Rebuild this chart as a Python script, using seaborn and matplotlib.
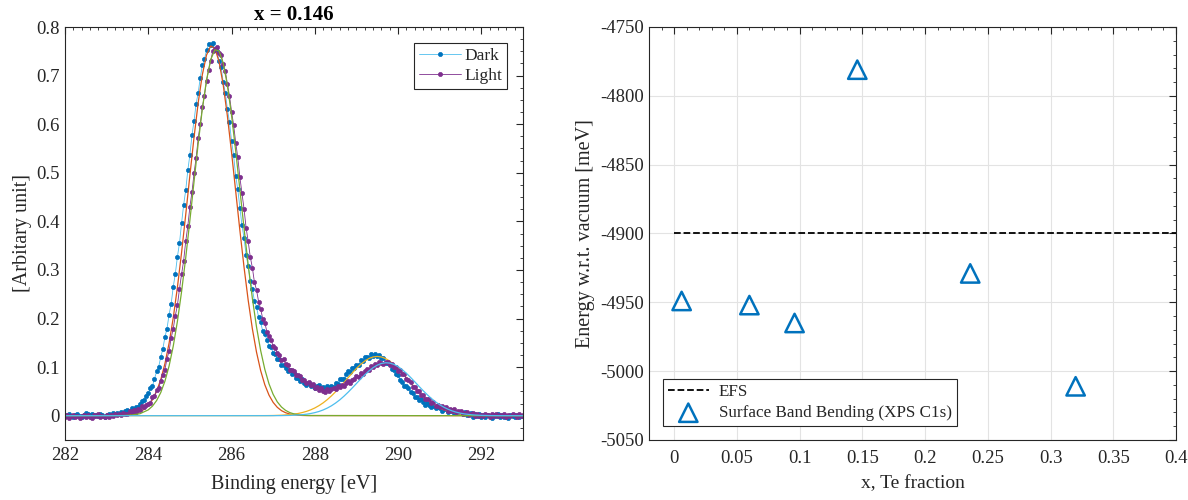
import numpy as np
import matplotlib
matplotlib.use("Agg")
import matplotlib.pyplot as plt
import seaborn as sns
from matplotlib.ticker import MultipleLocator, FuncFormatter

# ---------------- data: left panel (XPS C1s, x = 0.146) ----------------
energy_start, energy_stop, energy_step = 282.0, 293.0, 0.05

dark = [
    0.002, -0.001, 0.003, 0.000, -0.002, 0.001, 0.004, 0.000, -0.003, 0.002,
    0.006, 0.003, 0.001, 0.004, -0.001, 0.002, 0.000, 0.003, 0.001, -0.002,
    0.002, 0.004, 0.001, 0.005, 0.003, 0.006, 0.004, 0.008, 0.006, 0.009,
    0.011, 0.010, 0.015, 0.014, 0.018, 0.018, 0.025, 0.030, 0.032, 0.041,
    0.046, 0.057, 0.061, 0.076, 0.091, 0.100, 0.121, 0.137, 0.162, 0.179,
    0.208, 0.230, 0.265, 0.292, 0.327, 0.355, 0.396, 0.434, 0.464, 0.505,
    0.537, 0.577, 0.607, 0.642, 0.665, 0.696, 0.721, 0.734, 0.752, 0.766,
    0.763, 0.768, 0.753, 0.750, 0.731, 0.717, 0.687, 0.665, 0.632, 0.605,
    0.566, 0.536, 0.494, 0.466, 0.428, 0.392, 0.366, 0.331, 0.308, 0.278,
    0.261, 0.236, 0.224, 0.203, 0.192, 0.174, 0.169, 0.155, 0.144, 0.141,
    0.129, 0.127, 0.117, 0.117, 0.105, 0.105, 0.099, 0.091, 0.094, 0.086,
    0.087, 0.078, 0.078, 0.071, 0.075, 0.068, 0.064, 0.067, 0.061, 0.063,
    0.057, 0.062, 0.063, 0.057, 0.059, 0.055, 0.061, 0.058, 0.062, 0.060,
    0.068, 0.066, 0.075, 0.075, 0.076, 0.085, 0.091, 0.089, 0.098, 0.098,
    0.105, 0.104, 0.114, 0.113, 0.120, 0.120, 0.119, 0.127, 0.123, 0.127,
    0.122, 0.125, 0.119, 0.118, 0.109, 0.109, 0.106, 0.096, 0.094, 0.085,
    0.083, 0.073, 0.070, 0.061, 0.061, 0.058, 0.048, 0.047, 0.038, 0.038,
    0.032, 0.034, 0.028, 0.023, 0.026, 0.023, 0.018, 0.021, 0.016, 0.017,
    0.016, 0.010, 0.013, 0.014, 0.008, 0.009, 0.011, 0.005, 0.008, 0.005,
    0.007, 0.003, 0.007, 0.001, 0.003, 0.005, -0.002, 0.003, -0.001, 0.004,
    -0.002, 0.001, -0.003, 0.002, 0.000, -0.004, 0.001, -0.001, 0.003, -0.002,
    0.001, -0.003, 0.000, -0.005, 0.002, -0.001, -0.003, 0.001, -0.002, 0.000,
    -0.001,
]

light = [
    -0.002, 0.001, -0.004, -0.001, 0.002, -0.003, 0.000, -0.005, -0.001, 0.001,
    -0.003, 0.002, -0.002, -0.004, 0.001, -0.001, 0.003, -0.002, 0.000, -0.003,
    0.001, -0.002, 0.002, 0.000, 0.003, 0.001, 0.004, 0.002, 0.005, 0.003,
    0.004, 0.010, 0.007, 0.011, 0.008, 0.013, 0.012, 0.019, 0.017, 0.023,
    0.025, 0.027, 0.038, 0.041, 0.052, 0.056, 0.072, 0.083, 0.095, 0.117,
    0.133, 0.160, 0.179, 0.206, 0.227, 0.261, 0.291, 0.319, 0.359, 0.390,
    0.430, 0.460, 0.499, 0.531, 0.571, 0.601, 0.635, 0.659, 0.689, 0.712,
    0.731, 0.750, 0.754, 0.759, 0.747, 0.742, 0.724, 0.710, 0.683, 0.659,
    0.626, 0.599, 0.562, 0.532, 0.491, 0.459, 0.426, 0.387, 0.359, 0.327,
    0.305, 0.275, 0.259, 0.235, 0.220, 0.199, 0.191, 0.173, 0.164, 0.156,
    0.143, 0.140, 0.129, 0.125, 0.114, 0.116, 0.106, 0.104, 0.095, 0.095,
    0.092, 0.083, 0.084, 0.082, 0.074, 0.073, 0.068, 0.070, 0.064, 0.065,
    0.056, 0.059, 0.053, 0.056, 0.051, 0.049, 0.054, 0.051, 0.055, 0.058,
    0.054, 0.061, 0.059, 0.064, 0.061, 0.067, 0.071, 0.068, 0.074, 0.075,
    0.082, 0.080, 0.087, 0.085, 0.092, 0.097, 0.095, 0.102, 0.101, 0.107,
    0.104, 0.110, 0.109, 0.106, 0.111, 0.111, 0.105, 0.107, 0.101, 0.101,
    0.093, 0.094, 0.086, 0.085, 0.075, 0.073, 0.070, 0.060, 0.059, 0.051,
    0.051, 0.042, 0.042, 0.034, 0.035, 0.034, 0.027, 0.028, 0.021, 0.023,
    0.018, 0.021, 0.015, 0.017, 0.010, 0.013, 0.009, 0.013, 0.008, 0.010,
    0.009, 0.003, 0.006, 0.007, 0.002, 0.003, 0.005, -0.001, 0.003, 0.000,
    0.002, -0.001, 0.004, 0.001, -0.002, 0.003, 0.000, 0.004, -0.001, 0.002,
    0.000, 0.003, -0.002, 0.002, -0.001, 0.004, 0.001, -0.002, 0.003, 0.000,
    0.002,
]

# fitted components (energy, intensity)
fit_dark_main_e = [282.0, 283.3, 283.5, 283.7] + list(np.round(np.arange(283.9, 287.85, 0.1), 1)) + [293.0]
fit_dark_main_y = [0, 0.0004, 0.0013, 0.0044, 0.0128, 0.0208, 0.0328, 0.0501, 0.0743, 0.1069,
                   0.1490, 0.2014, 0.2640, 0.3356, 0.4138, 0.4947, 0.5733, 0.6444, 0.7024, 0.7424,
                   0.7609, 0.7563, 0.7289, 0.6812, 0.6173, 0.5425, 0.4622, 0.3820, 0.3061, 0.2378,
                   0.1792, 0.1309, 0.0927, 0.0637, 0.0424, 0.0274, 0.0172, 0.0104, 0.0061, 0.0035,
                   0.0019, 0.0010, 0.0005, 0.0003, 0]

fit_dark_sec_e = [282.0, 286.8, 287.0, 287.2] + list(np.round(np.arange(287.4, 291.65, 0.1), 1)) + [291.8, 292.0, 292.2, 293.0]
fit_dark_sec_y = [0, 0.0002, 0.0004, 0.0010,
                  0.0022, 0.0033, 0.0046, 0.0065, 0.0089, 0.0120,
                  0.0159, 0.0207, 0.0264, 0.0331, 0.0408, 0.0493, 0.0586, 0.0683, 0.0783, 0.0880,
                  0.0973, 0.1055, 0.1124, 0.1177, 0.1209, 0.1220, 0.1209, 0.1177, 0.1124, 0.1055,
                  0.0973, 0.0880, 0.0783, 0.0683, 0.0586, 0.0493, 0.0408, 0.0331, 0.0264, 0.0207,
                  0.0159, 0.0120, 0.0089, 0.0065, 0.0046, 0.0033, 0.0022,
                  0.0010, 0.0004, 0.0002, 0]

fit_light_main_e = [282.0, 283.4, 283.6, 283.8] + list(np.round(np.arange(284.0, 287.95, 0.1), 1)) + [293.0]
fit_light_main_y = [0, 0.0003, 0.0013, 0.0041,
                    0.0120, 0.0196, 0.0311, 0.0476, 0.0709, 0.1022, 0.1430, 0.1940, 0.2550, 0.3251,
                    0.4021, 0.4821, 0.5605, 0.6320, 0.6910, 0.7326, 0.7531, 0.7508, 0.7259, 0.6804,
                    0.6185, 0.5452, 0.4660, 0.3863, 0.3105, 0.2420, 0.1829, 0.1340, 0.0953, 0.0656,
                    0.0439, 0.0284, 0.0179, 0.0109, 0.0064, 0.0037, 0.0020, 0.0011, 0.0006, 0.0003,
                    0]

fit_light_sec_e = [282.0, 287.0, 287.2, 287.4] + list(np.round(np.arange(287.6, 291.65, 0.1), 1)) + [291.8, 292.0, 292.2, 292.4, 293.0]
fit_light_sec_y = [0, 0.0001, 0.0002, 0.0006,
                   0.0015, 0.0022, 0.0031, 0.0045,
                   0.0063, 0.0087, 0.0118, 0.0157, 0.0204, 0.0261, 0.0326, 0.0401, 0.0483, 0.0571,
                   0.0662, 0.0753, 0.0841, 0.0920, 0.0988, 0.1040, 0.1075, 0.1090, 0.1083, 0.1057,
                   0.1011, 0.0949, 0.0873, 0.0789, 0.0699, 0.0607, 0.0518, 0.0433, 0.0355, 0.0286,
                   0.0226, 0.0175, 0.0133, 0.0099, 0.0072, 0.0052, 0.0036,
                   0.0017, 0.0007, 0.0003, 0.0001, 0]

# ---------------- data: right panel ----------------
te_fraction = [0.006, 0.060, 0.096, 0.146, 0.236, 0.320]
band_bending = [-4949, -4952, -4965, -4781, -4929, -5011]
efs_x = [0.0, 0.4]
efs_y = [-4900, -4900]

# ---------------- styling ----------------
BLUE, ORANGE, YELLOW = "#0072BD", "#D95319", "#EDB120"
PURPLE, GREEN, LBLUE = "#7E2F8E", "#77AC30", "#4DBEEE"
AXC = "#262626"

sns.set_theme(style="white")
plt.rcParams["font.family"] = ["Liberation Serif", "DejaVu Serif"]
plt.rcParams["legend.numpoints"] = 1

energy = np.round(np.arange(energy_start, energy_stop + 1e-9, energy_step), 2)

fig = plt.figure(figsize=(11.88, 5.0), dpi=100)
ax1 = fig.add_axes([0.0547, 0.12, 0.3855, 0.826])
ax2 = fig.add_axes([0.5463, 0.12, 0.4436, 0.826])

fmt = FuncFormatter(lambda v, p: f"{v:g}")
TICK_FS = 13.5
LABEL_FS = 14.5

def style_axes(ax):
    for s in ax.spines.values():
        s.set_color(AXC)
        s.set_linewidth(0.8)
    ax.tick_params(which="both", direction="in", top=True, right=True,
                   color=AXC, labelcolor=AXC, labelsize=TICK_FS)
    ax.tick_params(which="major", length=5, width=0.8)
    ax.tick_params(which="minor", length=2.5, width=0.6)

# left panel
sns.lineplot(x=energy, y=dark, ax=ax1, color=LBLUE, lw=0.6, marker="o", markersize=3.0,
             markerfacecolor=BLUE, markeredgecolor=BLUE, markeredgewidth=0.5, label="Dark")
sns.lineplot(x=fit_dark_main_e, y=fit_dark_main_y, ax=ax1, color=ORANGE, lw=0.9)
sns.lineplot(x=fit_dark_sec_e, y=fit_dark_sec_y, ax=ax1, color=YELLOW, lw=0.9)
sns.lineplot(x=energy, y=light, ax=ax1, color=PURPLE, lw=0.6, marker="o", markersize=3.0,
             markerfacecolor=PURPLE, markeredgecolor=PURPLE, markeredgewidth=0.5, label="Light")
sns.lineplot(x=fit_light_main_e, y=fit_light_main_y, ax=ax1, color=GREEN, lw=0.9)
sns.lineplot(x=fit_light_sec_e, y=fit_light_sec_y, ax=ax1, color=LBLUE, lw=0.9)

ax1.set_xlim(282, 293)
ax1.set_ylim(-0.05, 0.8)
ax1.xaxis.set_major_locator(MultipleLocator(2))
ax1.xaxis.set_minor_locator(MultipleLocator(0.2))
ax1.yaxis.set_major_locator(MultipleLocator(0.1))
ax1.yaxis.set_minor_locator(MultipleLocator(0.025))
ax1.xaxis.set_major_formatter(fmt)
ax1.yaxis.set_major_formatter(fmt)
style_axes(ax1)
ax1.tick_params(axis="x", pad=5)
ax1.set_xlabel("Binding energy [eV]", fontsize=LABEL_FS, color=AXC, labelpad=8)
ax1.set_ylabel("[Arbitary unit]", fontsize=LABEL_FS, color=AXC, labelpad=3)
ax1.set_title("x = 0.146", fontsize=15, fontweight="bold", color="black", pad=5)
leg1 = ax1.legend(loc="upper right", fontsize=12.5, frameon=True, fancybox=False,
                  edgecolor=AXC, framealpha=1, borderaxespad=0.9, handlelength=2.4,
                  handletextpad=0.2, borderpad=0.3, labelspacing=0.2)
leg1.get_frame().set_linewidth(0.8)

# right panel
sns.lineplot(x=efs_x, y=efs_y, ax=ax2, color="black", lw=1.3, linestyle="--", label="EFS")
sns.scatterplot(x=te_fraction, y=band_bending, ax=ax2, marker="^", s=175,
                facecolor="none", edgecolor=BLUE, linewidth=1.8,
                label="Surface Band Bending (XPS C1s)", zorder=3)
ax2.set_xlim(-0.02, 0.4)
ax2.set_ylim(-5050, -4750)
ax2.xaxis.set_major_locator(MultipleLocator(0.05))
ax2.xaxis.set_minor_locator(MultipleLocator(0.01))
ax2.yaxis.set_major_locator(MultipleLocator(50))
ax2.yaxis.set_minor_locator(MultipleLocator(10))
ax2.xaxis.set_major_formatter(fmt)
ax2.yaxis.set_major_formatter(fmt)
ax2.grid(True, which="major", color="#E3E3E3", lw=0.8)
ax2.set_axisbelow(True)
style_axes(ax2)
ax2.tick_params(axis="x", pad=7)
ax2.set_xlabel("x, Te fraction", fontsize=14, color=AXC, labelpad=6)
ax2.set_ylabel("Energy w.r.t. vacuum [meV]", fontsize=LABEL_FS, color=AXC, labelpad=4)
leg2 = ax2.legend(loc="lower left", fontsize=12.3, frameon=True, fancybox=False,
                  edgecolor=AXC, framealpha=1, borderaxespad=0.8, handlelength=2.4,
                  handletextpad=0.6, borderpad=0.3, labelspacing=0.3)
leg2.get_frame().set_linewidth(0.8)

fig.savefig("out.png", dpi=100)
